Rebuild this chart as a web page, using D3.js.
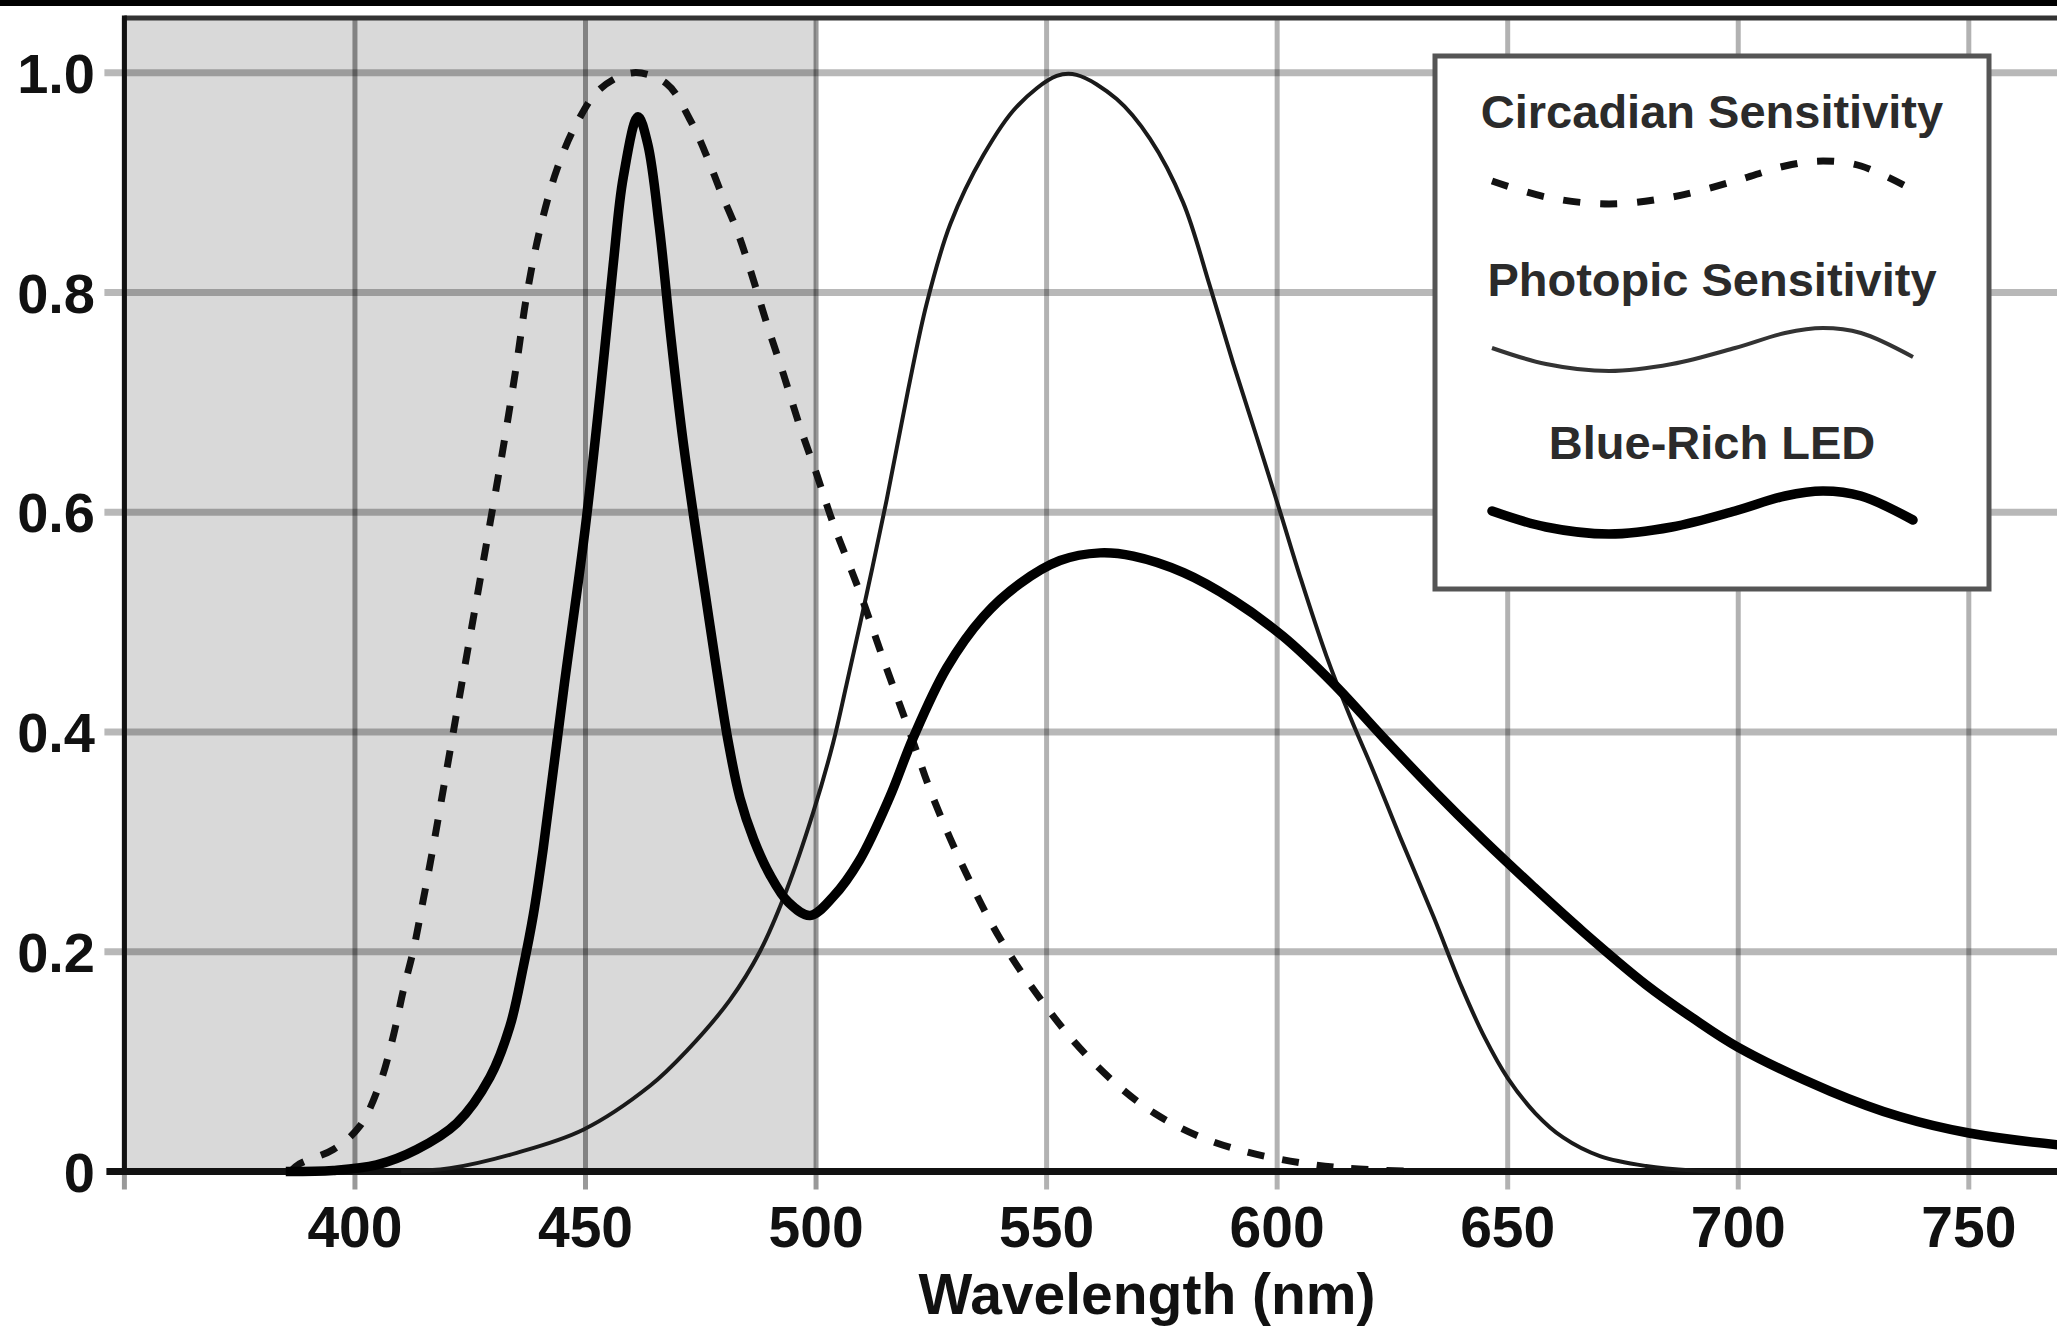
<!DOCTYPE html>
<html>
<head>
  <meta charset="utf-8">
  <title>Circadian / Photopic sensitivity vs Blue-Rich LED</title>
  <script src="https://d3js.org/d3.v7.min.js"></script>
  <style>
    html, body { margin: 0; padding: 0; background: #fff; overflow: hidden; }
    svg { display: block; }
    text { font-family: "Liberation Sans", Arial, Helvetica, sans-serif; font-weight: bold; }
  </style>
</head>
<body>
  <div id="chart"></div>
  <script>
    // wavelength (nm), relative value
    const circadian = [
      [386, 0], [388, 0.007], [395.3, 0.02], [401, 0.041], [405.4, 0.08], [408.3, 0.123],
      [410.5, 0.165], [412.7, 0.202], [414.8, 0.247], [416.6, 0.287], [423, 0.44], [429.3, 0.59],
      [432.2, 0.66], [435.1, 0.736], [437.2, 0.796], [440.1, 0.857], [443.8, 0.912], [448.1, 0.954],
      [453.1, 0.985], [460.4, 1.0], [467.6, 0.99], [472.7, 0.957], [476.3, 0.924], [479.2, 0.893],
      [482.8, 0.857], [485.7, 0.821], [489.3, 0.772], [492.9, 0.726], [496.5, 0.678], [500.1, 0.635],
      [503.7, 0.59], [509.5, 0.527], [514.6, 0.466], [520.4, 0.399], [525.4, 0.34], [532.7, 0.27],
      [539.9, 0.212], [547.8, 0.162], [556, 0.118], [565, 0.08], [573.4, 0.053], [583, 0.032],
      [593.2, 0.018], [605, 0.008], [615, 0.003], [630, 0]
    ];

    const photopic = [
      [410, 0], [420.6, 0.003], [435.1, 0.017], [449.5, 0.038], [464, 0.078], [472, 0.11],
      [481.3, 0.156], [487.8, 0.2], [493.6, 0.256], [499.4, 0.327], [503.7, 0.39], [506.6, 0.443],
      [511, 0.526], [515.3, 0.611], [520, 0.712], [524, 0.79], [529.1, 0.862], [536.3, 0.925],
      [543.5, 0.969], [552.2, 0.997], [556.5, 0.998], [565.2, 0.976], [572.4, 0.94], [579.6, 0.882],
      [585.4, 0.806], [590.5, 0.735], [595.6, 0.668], [600.6, 0.601], [605, 0.541], [610.7, 0.469],
      [615.8, 0.414], [620.8, 0.365], [626.6, 0.305], [633.9, 0.232], [640, 0.168], [645, 0.122],
      [650, 0.085], [656, 0.053], [662, 0.031], [670, 0.014], [680, 0.005], [690, 0.001], [700, 0]
    ];

    const blueLed = [
      [385, 0], [395.3, 0.001], [404.7, 0.006], [413.4, 0.02], [422.1, 0.044], [429.3, 0.086],
      [433.6, 0.132], [436.5, 0.186], [438.7, 0.234], [440.8, 0.293], [445.3, 0.44], [449.9, 0.584],
      [453.1, 0.705], [456, 0.825], [458.2, 0.905], [461.4, 0.96], [463.5, 0.935], [466, 0.86],
      [468.5, 0.76], [471, 0.67], [473.5, 0.595], [476, 0.525], [478.5, 0.455], [481, 0.39],
      [483.5, 0.34], [486.5, 0.302], [490, 0.27], [494, 0.245], [498.7, 0.233], [503.7, 0.25],
      [509.4, 0.283], [515.9, 0.34], [521.1, 0.395], [528.3, 0.458], [536.3, 0.505], [544.2, 0.535],
      [552.9, 0.556], [561.6, 0.563], [568.8, 0.56], [579.7, 0.545], [590.5, 0.52], [601.3, 0.487],
      [612.2, 0.444], [623, 0.395], [633.9, 0.347], [644.7, 0.302], [655.6, 0.259], [666.4, 0.218],
      [680, 0.17], [690, 0.14], [700, 0.113], [720, 0.073], [735, 0.05], [750, 0.035],
      [770, 0.024], [790, 0.018]
    ];

    const xTicks = [400, 450, 500, 550, 600, 650, 700, 750];
    const xGrid = [350, 400, 450, 500, 550, 600, 650, 700, 750];
    const yTicks = [0, 0.2, 0.4, 0.6, 0.8, 1.0];
    const yLabels = ["0", "0.2", "0.4", "0.6", "0.8", "1.0"];
    const shadedRange = [350, 500];

    const legendItems = [
      { name: "Circadian Sensitivity", style: "dash" },
      { name: "Photopic Sensitivity", style: "thin" },
      { name: "Blue-Rich LED", style: "thick" }
    ];
    // sample squiggle drawn under each legend title (dx, dy from its start)
    const legendWave = [[0, 0], [54, 16], [117, 23], [180, 16], [243, 0], [293, -15], [331, -20], [369, -15], [421, 9]];

    const width = 2057, height = 1328;
    const left = 124.4, bottom = 1171.5, topBorder = 18;

    const svg = d3.select("#chart").append("svg")
      .attr("width", width)
      .attr("height", height);

    const x = d3.scaleLinear().domain([350, 800]).range([left, left + 450 * 4.611]);
    const y = d3.scaleLinear().domain([0, 1]).range([bottom, 72.7]);

    // black strip at the very top of the picture
    svg.append("rect").attr("x", 0).attr("y", 0).attr("width", width).attr("height", 6).attr("fill", "#000");

    // shaded blue band
    svg.append("rect")
      .attr("x", x(shadedRange[0]))
      .attr("y", topBorder)
      .attr("width", x(shadedRange[1]) - x(shadedRange[0]))
      .attr("height", bottom - topBorder)
      .attr("fill", "#d9d9d9");

    // horizontal grid lines (with stubs left of the frame)
    svg.append("g").selectAll("line")
      .data(yTicks.filter(d => d > 0))
      .enter().append("line")
      .attr("x1", left - 20).attr("x2", width)
      .attr("y1", d => y(d)).attr("y2", d => y(d))
      .attr("stroke", "rgba(0,0,0,0.28)")
      .attr("stroke-width", 7);

    // vertical grid lines (with ticks below the base line)
    svg.append("g").selectAll("line")
      .data(xGrid)
      .enter().append("line")
      .attr("x1", d => x(d)).attr("x2", d => x(d))
      .attr("y1", topBorder).attr("y2", bottom + 18)
      .attr("stroke", d => d <= shadedRange[1] ? "rgba(0,0,0,0.4)" : "rgba(0,0,0,0.3)")
      .attr("stroke-width", 5);

    // frame: top, left, base line
    svg.append("line").attr("x1", left).attr("x2", width).attr("y1", topBorder).attr("y2", topBorder)
      .attr("stroke", "#333").attr("stroke-width", 5);
    svg.append("line").attr("x1", left).attr("x2", left).attr("y1", topBorder - 2.5).attr("y2", bottom)
      .attr("stroke", "#111").attr("stroke-width", 5);
    svg.append("line").attr("x1", left - 18).attr("x2", width).attr("y1", bottom).attr("y2", bottom)
      .attr("stroke", "#111").attr("stroke-width", 7);

    // curves
    const line = d3.line()
      .x(d => x(d[0]))
      .y(d => Math.min(bottom, y(d[1])))
      .curve(d3.curveCatmullRom.alpha(0.5));

    svg.append("path").datum(photopic)
      .attr("d", line).attr("fill", "none")
      .attr("stroke", "#1a1a1a").attr("stroke-width", 4);

    svg.append("path").datum(circadian)
      .attr("d", line).attr("fill", "none")
      .attr("stroke", "#111").attr("stroke-width", 7)
      .attr("stroke-dasharray", "17,18");

    svg.append("path").datum(blueLed)
      .attr("d", line).attr("fill", "none")
      .attr("stroke", "#000").attr("stroke-width", 9.5)
      .attr("stroke-linejoin", "round");

    // y labels
    svg.append("g").selectAll("text")
      .data(yTicks)
      .enter().append("text")
      .attr("x", 95)
      .attr("y", d => y(d))
      .attr("dy", "0.36em")
      .attr("text-anchor", "end")
      .attr("font-size", 56)
      .attr("fill", "#111")
      .text((d, i) => yLabels[i]);

    // x labels
    svg.append("g").selectAll("text")
      .data(xTicks)
      .enter().append("text")
      .attr("x", d => x(d))
      .attr("y", 1247)
      .attr("text-anchor", "middle")
      .attr("font-size", 57)
      .attr("fill", "#111")
      .text(d => d);

    svg.append("text")
      .attr("x", 1147)
      .attr("y", 1314)
      .attr("text-anchor", "middle")
      .attr("font-size", 57)
      .attr("fill", "#111")
      .text("Wavelength (nm)");

    // legend
    const lg = svg.append("g");
    lg.append("rect")
      .attr("x", 1435).attr("y", 56)
      .attr("width", 554).attr("height", 533)
      .attr("fill", "#fff")
      .attr("stroke", "#555").attr("stroke-width", 5);

    const titleY = [128, 296, 459];
    const waveY = [181, 348, 511];
    const wave = d3.line().curve(d3.curveCatmullRom);

    legendItems.forEach((item, i) => {
      lg.append("text")
        .attr("x", 1712)
        .attr("y", titleY[i])
        .attr("text-anchor", "middle")
        .attr("font-size", 47)
        .attr("fill", "#2b2b2b")
        .text(item.name);

      const p = lg.append("path")
        .attr("d", wave(legendWave.map(d => [1492 + d[0], waveY[i] + d[1]])))
        .attr("fill", "none");
      if (item.style === "dash") {
        p.attr("stroke", "#111").attr("stroke-width", 7).attr("stroke-dasharray", "17,20");
      } else if (item.style === "thin") {
        p.attr("stroke", "#333").attr("stroke-width", 4);
      } else {
        p.attr("stroke", "#000").attr("stroke-width", 9.5).attr("stroke-linecap", "round");
      }
    });
  </script>
</body>
</html>
